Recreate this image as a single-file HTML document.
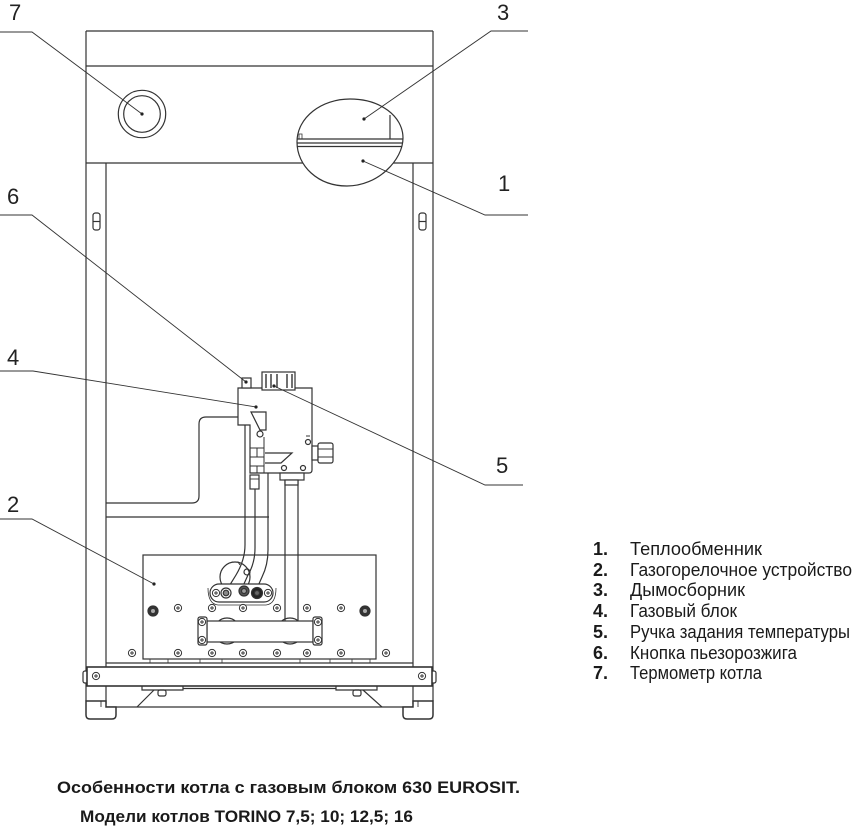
<!DOCTYPE html>
<html><head><meta charset="utf-8"><style>
html,body{margin:0;padding:0;background:#fff;}
svg{display:block;}
</style></head><body>
<svg width="852" height="826" viewBox="0 0 852 826" xmlns="http://www.w3.org/2000/svg">
<defs>
<g id="sc"><circle r="3.6" fill="#fff" stroke="#333" stroke-width="1"/><path d="M-2,0H2M0,-2V2" stroke="#333" stroke-width="0.9"/></g>
<clipPath id="egg"><path d="M297,142 C297,117 322,99 350,99 C380,99 403,116 403,138 C403,160 378,186 347,186 C318,186 297,166 297,142 Z"/></clipPath>
</defs>
<g fill="none" stroke="#333" stroke-width="1.2">
<!-- top box -->
<path d="M86,31 H433 M86,66 H433 M86,163 H433"/>
<!-- legs -->
<path d="M86,31 V701 M433,31 V701 M106,163 V667 M413,163 V667 M106,686 V704 M413,686 V704"/>
<!-- slots -->
<rect x="93" y="213" width="7" height="17" rx="2.5"/><path d="M93,221.5 H100"/>
<rect x="419" y="213" width="7" height="17" rx="2.5"/><path d="M419,221.5 H426"/>
<!-- thermometer -->
<circle cx="142" cy="114" r="23.7"/><circle cx="142" cy="114" r="18.3"/>
<!-- egg -->
<path d="M297,142 C297,117 322,99 350,99 C380,99 403,116 403,138 C403,160 378,186 347,186 C318,186 297,166 297,142 Z" fill="#fff"/>
<g clip-path="url(#egg)">
<path d="M290,139 H410 M290,143 H410 M290,146.5 H410 M390,115 V139"/>
</g>
<path d="M299,139 V134 H302 V139" stroke-width="0.8"/>
<!-- pipe from valve -->
<path d="M238,417 H206 Q199,417 199,424 V496 Q199,503 192,503 H106"/>
<path d="M106,517 H269"/>
<!-- burner box -->
<rect x="143" y="555" width="233" height="104" fill="#fff"/>
<!-- thin pipes -->
<circle cx="235" cy="577" r="15"/>
<circle cx="247" cy="572" r="3"/>
<path d="M232,562 L238,562 L240,565" stroke-width="0.9"/>
<path d="M245,425 V545 Q245,560 236,575 L228,588"/>
<path d="M255,489 V548 Q255,563 248,575 L243,586"/>
<path d="M268,473 V550 Q268,565 262,577 L258,586"/>
<!-- connector plate -->
<rect x="210" y="584" width="63" height="18" rx="9" fill="#fff"/>
<path d="M208,588 Q208,604 218,605 H266 Q276,604 276,588" stroke-width="0.8"/>
<circle cx="226" cy="593" r="5" fill="#fff"/><circle cx="226" cy="593" r="2.8" fill="#888"/>
<circle cx="244" cy="591" r="5" fill="#555"/><circle cx="244" cy="591" r="2.5" fill="#999"/>
<circle cx="257" cy="593" r="5.5" fill="#222"/><circle cx="257" cy="593" r="2.5" fill="#666"/>
<!-- outlet pipe -->
<path d="M285,480 V621 M298,480 V621"/>
<!-- manifold -->
<circle cx="227" cy="631" r="13"/><circle cx="290" cy="631" r="13"/>
<rect x="207" y="621" width="106" height="21" fill="#fff"/>
<rect x="198" y="617" width="9" height="28" rx="2" fill="#fff"/>
<rect x="313" y="617" width="9" height="28" rx="2" fill="#fff"/>
<!-- bolts -->
<circle cx="153" cy="611" r="5" fill="#333"/><circle cx="153" cy="611" r="2" fill="#aaa" stroke="none"/>
<circle cx="365" cy="611" r="5" fill="#333"/><circle cx="365" cy="611" r="2" fill="#aaa" stroke="none"/>
<!-- below box -->
<path d="M106,663 H413"/>
<path d="M150,659 V663 M168,659 V663 M200,659 V663 M222,659 V663 M300,659 V663 M330,659 V663 M352,659 V663 M370,659 V663" stroke-width="0.8"/>
<!-- base bar -->
<rect x="83" y="671" width="5" height="12" rx="2" fill="#fff"/>
<rect x="431" y="671" width="5" height="12" rx="2" fill="#fff"/>
<rect x="87" y="667" width="345" height="19" fill="#fff" stroke-width="1.6"/>
<path d="M142,686 V690 H183 V686 M336,686 V690 H377 V686 M183,688.5 H336"/>
<rect x="158" y="690" width="8" height="6" rx="2"/>
<rect x="353" y="690" width="8" height="6" rx="2"/>
<path d="M154,690 L137,707 M363,690 L382,707"/>
<path d="M106,707 H413"/>
<!-- feet -->
<path d="M86,701 H106 V707 H116 V715 Q116,719 112,719 H90 Q86,719 86,715 Z" fill="#fff" stroke-width="1.5"/>
<path d="M106,701 H101 V707" stroke-width="0.9"/>
<path d="M433,701 H413 V707 H403 V715 Q403,719 407,719 H429 Q433,719 433,715 Z" fill="#fff" stroke-width="1.5"/>
<path d="M413,701 H418 V707" stroke-width="0.9"/>
<!-- gas valve body -->
<path d="M238,388 H312 V470 Q312,473 309,473 H250 V425 H238 Z" fill="#fff"/>
<rect x="242" y="378" width="9" height="10" fill="#fff"/>
<rect x="262" y="372" width="33" height="18" fill="#fff"/>
<path d="M266,374 V388 M271,374 V388 M277,374 V388 M287,374 V388 M292,374 V388" stroke-width="1.4"/>
<path d="M251,412 H266 V430 H260 Z M251,412 L260,430" fill="#fff"/>
<circle cx="260" cy="434" r="3" fill="#fff"/>
<path d="M264,437 V473 M250,448 H264 M250,457 H264 M250,466 H264 M257,448 V457 M257,466 V473" stroke-width="1"/>
<path d="M265,453 H292 L281,463 H265" fill="#fff"/>
<circle cx="284" cy="468" r="2.5"/><circle cx="303" cy="468" r="2.5"/>
<circle cx="308" cy="442" r="2.5"/><path d="M306,436 H310" stroke-width="1"/>
<rect x="312" y="446" width="6" height="14" fill="#fff"/>
<rect x="318" y="443" width="15" height="20" rx="2" fill="#fff"/>
<path d="M318,449 H333 M318,457 H333" stroke-width="0.9"/>
<rect x="280" y="473" width="24" height="7" fill="#fff"/>
<rect x="285" y="480" width="13" height="5" fill="#fff"/>
<rect x="250" y="475" width="9" height="14" fill="#fff"/>
<path d="M250,479 H259" stroke-width="0.9"/>
</g>
<!-- screws -->
<g>
<use href="#sc" x="178" y="608"/><use href="#sc" x="212" y="608"/><use href="#sc" x="243" y="608"/><use href="#sc" x="277" y="608"/><use href="#sc" x="307" y="608"/><use href="#sc" x="341" y="608"/>
<use href="#sc" x="132" y="653"/><use href="#sc" x="178" y="653"/><use href="#sc" x="212" y="653"/><use href="#sc" x="243" y="653"/><use href="#sc" x="277" y="653"/><use href="#sc" x="307" y="653"/><use href="#sc" x="341" y="653"/><use href="#sc" x="386" y="653"/>
<use href="#sc" x="202" y="622"/><use href="#sc" x="202" y="640"/><use href="#sc" x="318" y="622"/><use href="#sc" x="318" y="640"/>
<use href="#sc" x="216" y="593"/><use href="#sc" x="268" y="593"/>
<use href="#sc" x="96" y="676"/><use href="#sc" x="422" y="676"/>
</g>
<!-- leaders -->
<g fill="none" stroke="#333" stroke-width="0.9">
<path d="M0,32 H32 L142,114"/>
<path d="M528,31 H491 L364,119"/>
<path d="M528,215 H485 L363,161"/>
<path d="M0,215 H32 L246,382"/>
<path d="M0,371 H33 L256,407"/>
<path d="M0,519 H32 L154,584"/>
<path d="M523,485 H485 L274,386"/>
</g>
<g fill="#222">
<circle cx="142" cy="114" r="1.6"/><circle cx="364" cy="119" r="1.6"/><circle cx="363" cy="161" r="1.6"/>
<circle cx="246" cy="382" r="1.6"/><circle cx="256" cy="407" r="1.6"/><circle cx="154" cy="584" r="1.6"/><circle cx="274" cy="386" r="1.6"/>
</g>
<g font-family="'Liberation Sans', Arial, sans-serif" font-size="22" fill="#222">
<text x="9" y="20">7</text>
<text x="497" y="20">3</text>
<text x="498" y="191">1</text>
<text x="7" y="204">6</text>
<text x="7" y="365">4</text>
<text x="7" y="512">2</text>
<text x="496" y="473">5</text>
</g>
<g font-family="'Liberation Sans', 'Noto Sans CJK SC', sans-serif" font-size="18" fill="#1a1a1a">
<g font-weight="bold">
<text x="593" y="555">1.</text>
<text x="593" y="576">2.</text>
<text x="593" y="596">3.</text>
<text x="593" y="617">4.</text>
<text x="593" y="638">5.</text>
<text x="593" y="659">6.</text>
<text x="593" y="679">7.</text>
</g>
<text x="630" y="555" textLength="132" lengthAdjust="spacingAndGlyphs">Теплообменник</text>
<text x="630" y="576" textLength="222" lengthAdjust="spacingAndGlyphs">Газогорелочное устройство</text>
<text x="630" y="596" textLength="115" lengthAdjust="spacingAndGlyphs">Дымосборник</text>
<text x="630" y="617" textLength="107" lengthAdjust="spacingAndGlyphs">Газовый блок</text>
<text x="630" y="638" textLength="220" lengthAdjust="spacingAndGlyphs">Ручка задания температуры</text>
<text x="630" y="659" textLength="167" lengthAdjust="spacingAndGlyphs">Кнопка пьезорозжига</text>
<text x="630" y="679" textLength="132" lengthAdjust="spacingAndGlyphs">Термометр котла</text>
</g>
<g font-family="'Liberation Sans', 'Noto Sans CJK SC', sans-serif" font-size="17" font-weight="bold" fill="#1a1a1a">
<text x="57" y="793" textLength="463" lengthAdjust="spacingAndGlyphs">Особенности котла с газовым блоком 630 EUROSIT.</text>
<text x="80" y="822" textLength="333" lengthAdjust="spacingAndGlyphs">Модели котлов TORINO 7,5; 10; 12,5; 16</text>
</g>
</svg>
</body></html>
